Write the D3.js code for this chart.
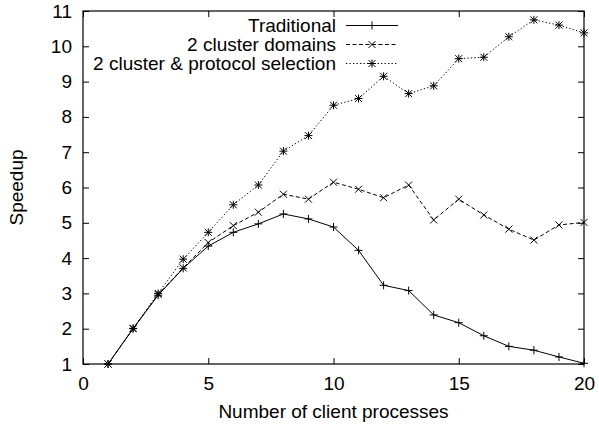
<!DOCTYPE html>
<html>
<head>
<meta charset="utf-8">
<script src="https://cdn.jsdelivr.net/npm/d3@7"></script>
<style>
  html, body { margin: 0; padding: 0; background: #fff; }
  svg text { font-family: "Liberation Sans", Arial, Helvetica, sans-serif; fill: #000; }
</style>
</head>
<body>
<svg id="chart" width="599" height="425"></svg>
<script>
const xValues = [1,2,3,4,5,6,7,8,9,10,11,12,13,14,15,16,17,18,19,20];
const traditional = [1.0,2.0,2.95,3.71,4.34,4.73,4.97,5.25,5.11,4.88,4.22,3.23,3.08,2.39,2.17,1.80,1.50,1.39,1.20,1.02];
const clusterDomains = [1.0,2.0,2.97,3.72,4.44,4.92,5.30,5.81,5.67,6.15,5.95,5.71,6.07,5.08,5.67,5.22,4.82,4.51,4.94,5.01];
const protocolSelection = [1.0,2.01,3.0,3.97,4.73,5.51,6.07,7.03,7.47,8.33,8.52,9.15,8.66,8.88,9.65,9.69,10.27,10.75,10.60,10.38];
const seriesNames = ["Traditional", "2 cluster domains", "2 cluster & protocol selection"];
const xTicks = [0,5,10,15,20];
const yTicks = [1,2,3,4,5,6,7,8,9,10,11];
const xTitle = "Number of client processes";
const yTitle = "Speedup";

const svg = d3.select("#chart");
const L = 83, R = 584, T = 11, B = 364;
const x = d3.scaleLinear().domain([0,20]).range([L,R]);
const y = d3.scaleLinear().domain([1,11]).range([B,T]);
const FS = 19;

// axes with inward ticks
const tk = 6;
const gB = svg.append("g").attr("transform", `translate(0,${B})`)
  .call(d3.axisBottom(x).tickValues(xTicks).tickSize(-tk).tickPadding(13).tickFormat(d3.format("d")));
const gT = svg.append("g").attr("transform", `translate(0,${T})`)
  .call(d3.axisTop(x).tickValues(xTicks).tickSize(-tk).tickFormat(""));
const gL = svg.append("g").attr("transform", `translate(${L},0)`)
  .call(d3.axisLeft(y).tickValues(yTicks).tickSize(-tk).tickPadding(11).tickFormat(d3.format("d")));
const gR = svg.append("g").attr("transform", `translate(${R},0)`)
  .call(d3.axisRight(y).tickValues(yTicks).tickSize(-tk).tickFormat(""));
[gB,gT,gL,gR].forEach(g => {
  g.select(".domain").remove();
  g.selectAll(".tick line").attr("stroke", "#000").attr("stroke-width", 1);
  g.selectAll(".tick text").attr("font-size", FS).attr("font-family", "Liberation Sans, Arial, sans-serif").attr("fill", "#000");
});

svg.append("rect").attr("x", L).attr("y", T).attr("width", R-L).attr("height", B-T)
  .attr("fill", "none").attr("stroke", "#000").attr("stroke-width", 1.2);

// series
const series = [
  {name: seriesNames[0], vals: traditional, dash: null, marker: "plus"},
  {name: seriesNames[1], vals: clusterDomains, dash: "4,2.5", marker: "cross"},
  {name: seriesNames[2], vals: protocolSelection, dash: "1.3,2.2", marker: "star"}
];
const markerPath = {
  plus: "M-4,0H4M0,-4V4",
  cross: "M-3.5,-3.5L3.5,3.5M-3.5,3.5L3.5,-3.5",
  star: "M-4,0H4M0,-4V4M-3.5,-3.5L3.5,3.5M-3.5,3.5L3.5,-3.5"
};
const line = d3.line().x(d => x(d[0])).y(d => y(d[1]));

series.forEach(s => {
  const pts = xValues.map((xv,i) => [xv, s.vals[i]]);
  svg.append("path").datum(pts).attr("d", line)
    .attr("fill", "none").attr("stroke", "#000").attr("stroke-width", 1)
    .attr("stroke-dasharray", s.dash);
  svg.append("g").selectAll("path").data(pts).join("path")
    .attr("transform", d => `translate(${x(d[0])},${y(d[1])})`)
    .attr("d", markerPath[s.marker])
    .attr("stroke", "#000").attr("stroke-width", 1).attr("fill", "none");
});

// legend
const legY = [25.5, 44.5, 63.5];
series.forEach((s, i) => {
  const g = svg.append("g").attr("transform", `translate(0,${legY[i]})`);
  g.append("text").attr("x", 336).attr("y", 0).attr("dy", "0.35em")
    .attr("text-anchor", "end").attr("font-size", FS).text(s.name);
  g.append("line").attr("x1", 346).attr("x2", 398).attr("y1", 0).attr("y2", 0)
    .attr("stroke", "#000").attr("stroke-width", 1).attr("stroke-dasharray", s.dash);
  g.append("path").attr("transform", "translate(372,0)").attr("d", markerPath[s.marker])
    .attr("stroke", "#000").attr("stroke-width", 1).attr("fill", "none");
});

// titles
svg.append("text").attr("x", (L+R)/2).attr("y", 411.5).attr("dy", "0.35em")
  .attr("text-anchor", "middle").attr("font-size", FS).text(xTitle);
svg.append("text").attr("transform", `translate(16,${(T+B)/2}) rotate(-90)`)
  .attr("dy", "0.35em").attr("text-anchor", "middle").attr("font-size", FS).text(yTitle);
</script>
</body>
</html>
